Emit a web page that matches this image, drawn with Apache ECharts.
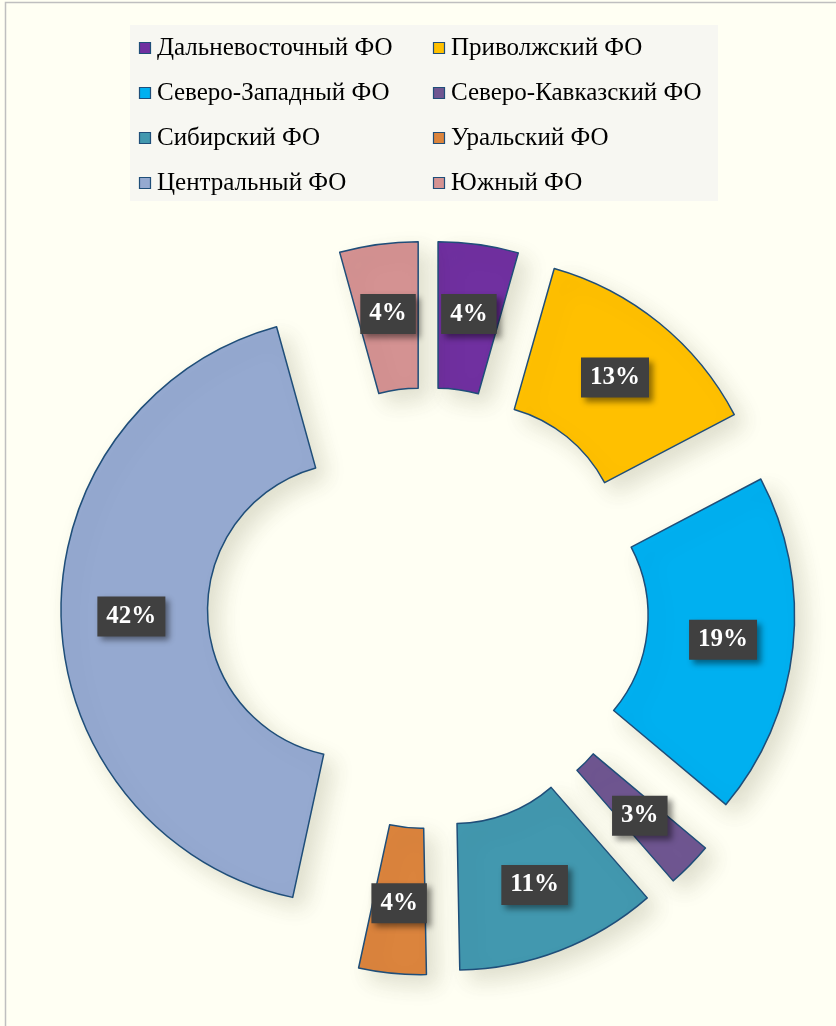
<!DOCTYPE html>
<html><head><meta charset="utf-8">
<script src="https://cdn.jsdelivr.net/npm/echarts@6/dist/echarts.min.js"></script>
<style>html,body{margin:0;padding:0;background:#FFFFF3;}#c{width:836px;height:1026px;}</style>
</head><body><div id="c"></div>
<script>
const categories = ['Дальневосточный ФО','Приволжский ФО','Северо-Западный ФО','Северо-Кавказский ФО','Сибирский ФО','Уральский ФО','Центральный ФО','Южный ФО'];
// shares (%) estimated from sector angles in the picture
const shares = [4.4, 12.9, 18.8, 2.5, 11.1, 3.7, 42.3, 4.3];
// labels as printed on the chart
const labels = ['4%', '13%', '19%', '3%', '11%', '4%', '42%', '4%'];
const colors = ['#7030A0','#FFC000','#00B0F0','#6F5691','#4298AF','#DB843D','#95A9D0','#D49292'];

const chart = echarts.init(document.getElementById('c'), null, {renderer:'canvas'});
const font = 'Liberation Serif';

// legend (two columns, items in category order, row-major)
const legendEls = [];
categories.forEach((name, i) => {
  const col = i % 2, row = Math.floor(i / 2);
  const x = col === 0 ? 139 : 433;
  const y = 48 + row * 45;
  legendEls.push({type:'rect', shape:{x: x + 0.5, y: y - 5.5, width: 11, height: 11},
    style:{fill: colors[i], stroke:'#1F4E79', lineWidth: 1.2}});
  legendEls.push({type:'text', x: x + 18, y: y - 12,
    style:{text: name, font: '25px "Liberation Serif"', fill:'#000'}});
});

chart.setOption({
  backgroundColor: '#FFFFF3',
  animation: false,
  color: colors,
  graphic: [
    {type:'rect', shape:{x:5.5,y:2.5,width:840,height:1030}, style:{fill:'none', stroke:'#BFBFBF', lineWidth:1.5}},
    {type:'rect', shape:{x:130,y:25,width:588,height:176}, style:{fill:'#F7F7F2'}}
  ].concat(legendEls),
  series: [{
    type: 'pie',
    center: [428, 608],
    radius: [147.5, 294],
    startAngle: 90,
    clockwise: true,
    selectedMode: 'multiple',
    selectedOffset: 73,
    avoidLabelOverlap: false,
    itemStyle: {borderColor: '#1F4E79', borderWidth: 1.5, shadowColor: 'rgba(80,80,40,0.18)', shadowBlur: 22, shadowOffsetX: 10, shadowOffsetY: 10},
    label: {
      show: true, position: 'inside',
      formatter: p => labels[p.dataIndex],
      fontFamily: font, fontWeight: 'bold', fontSize: 25, color: '#fff', lineHeight: 24,
      backgroundColor: '#404040', padding: [8, 9, 8, 9],
      shadowColor: 'rgba(0,0,0,0.45)', shadowBlur: 6, shadowOffsetX: 4, shadowOffsetY: 4
    },
    labelLine: {show: false},
    emphasis: {disabled: true},
    data: categories.map((n, i) => ({name: n, value: shares[i], selected: true}))
  }]
});
</script></body></html>
